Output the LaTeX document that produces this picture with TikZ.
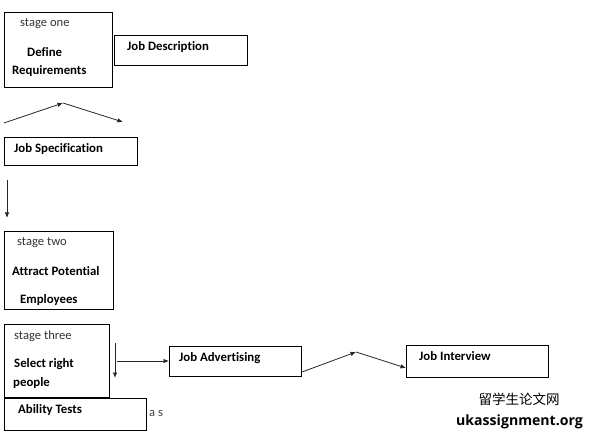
\documentclass[tikz,border=0pt]{standalone}
\usepackage{fontspec}
\setmainfont{Carlito}[Ligatures=NoCommon]
\newfontfamily\cjk{Noto Sans CJK SC}
\newfontfamily\wm{Open Sans}
\usetikzlibrary{arrows.meta}
\tikzset{
  box/.style={draw=black, line width=0.9bp, anchor=north west, inner sep=0pt},
  lbl/.style={anchor=west, inner sep=0pt, font=\fontsize{12.8bp}{14bp}\selectfont\bfseries, text=black},
  sub/.style={anchor=west, inner sep=0pt, font=\fontsize{12.6bp}{14bp}\selectfont, text=black!80},
  arr/.style={draw=black!85, line width=0.8bp, -{Latex[length=5.5bp,width=4.5bp]}},
}
\begin{document}
\begin{tikzpicture}[x=1bp,y=-1bp]
\useasboundingbox (0,0) rectangle (592,441);
% boxes
\node[box, minimum width=108bp, minimum height=75bp] (s1) at (4,12) {};
\node[box, minimum width=133bp, minimum height=30bp] (jd) at (114,35) {};
\node[box, minimum width=133bp, minimum height=28bp] (js) at (4,137) {};
\node[box, minimum width=109bp, minimum height=78bp] (s2) at (4,231) {};
\node[box, minimum width=105bp, minimum height=73bp] (s3) at (4,324) {};
\node[box, minimum width=132bp, minimum height=30bp] (ja) at (169,346) {};
\node[box, minimum width=142bp, minimum height=32bp] (ji) at (406,345) {};
\node[box, minimum width=142bp, minimum height=32bp] (at) at (4,398) {};
% texts
\node[sub] (t1) at (20,24) {stage one};
\node[lbl] (t2) at (27,52) {Define};
\node[lbl] (t3) at (12,71) {Requirements};
\node[lbl] (t4) at (127,47) {Job Description};
\node[lbl] (t5) at (14,149) {Job Specification};
\node[sub] (t6) at (17,243) {stage two};
\node[lbl] (t7) at (12,271) {Attract Potential};
\node[lbl] (t8) at (20,300) {Employees};
\node[sub] (t9) at (14,336) {stage three};
\node[lbl] (t10) at (14,364) {Select right};
\node[lbl] (t11) at (13,383) {people};
\node[lbl] (t12) at (179,358) {Job Advertising};
\node[lbl] (t13) at (419,356) {Job Interview};
\node[lbl] (t14) at (18,410) {Ability Tests};
\node[sub, text=black!75] (t15) at (149,413) {a s};
% watermark
\node[anchor=center, inner sep=0pt, font=\cjk\fontsize{13.5bp}{15bp}\selectfont] (w1) at (519,399) {留学生论文网};
\node[anchor=center, inner sep=0pt, font=\wm\bfseries\fontsize{14.1bp}{16bp}\selectfont] (w2) at (519.5,422) {ukassignment.org};
% connectors
\coordinate (a0) at (4,123);
\coordinate (a1) at (63,103);
\coordinate (a2) at (123,122);
\draw[arr] (a0) -- (a1);
\draw[arr] (a1) -- (a2);
\coordinate (b0) at (7,180);
\coordinate (b1) at (7,218);
\draw[arr] (b0) -- (b1);
\coordinate (c0) at (115,343);
\coordinate (c1) at (115,378);
\draw[arr] (c0) -- (c1);
\coordinate (d0) at (117,361);
\draw[arr] (d0) -- (ja.west |- d0);
\coordinate (e0) at (302,372);
\coordinate (e1) at (356,352);
\draw[arr] (e0) -- (e1);
\draw[arr] (e1) -- (ji.west |- 0,368);
\end{tikzpicture}
\end{document}
